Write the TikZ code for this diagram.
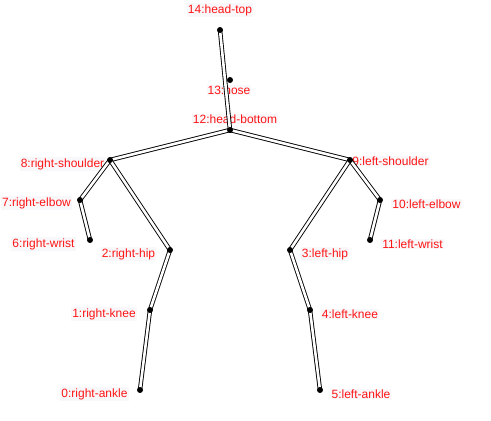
\documentclass[tikz,border=0pt]{standalone}
\usepackage{fontspec}
\setmainfont{Liberation Sans}
\definecolor{lblbg}{RGB}{248,248,251}
\definecolor{lblred}{RGB}{255,20,20}
\begin{document}
\begin{tikzpicture}[x=1pt,y=-1pt,
  lbl/.style={text=lblred,fill=lblbg,inner sep=1pt,font=\fontsize{12}{14}\selectfont},
  bone/.style={draw=black,line width=0.9pt,double=white,double distance=2.6pt},
  joint/.style={circle,fill=black,inner sep=0pt,minimum size=6pt}]
\useasboundingbox (0,0) rectangle (491,421);
% joint positions
\coordinate (p0) at (140,390);
\coordinate (p1) at (150,310);
\coordinate (p2) at (170,250);
\coordinate (p3) at (290,250);
\coordinate (p4) at (310,310);
\coordinate (p5) at (320,390);
\coordinate (p6) at (90,240);
\coordinate (p7) at (80,200);
\coordinate (p8) at (110,160);
\coordinate (p9) at (350,160);
\coordinate (p10) at (380,200);
\coordinate (p11) at (370,240);
\coordinate (p12) at (230,130);
\coordinate (p13) at (230,80);
\coordinate (p14) at (220,30);
% labels
\node[lbl] (l14) at (220,10) {14:head-top};
\node[lbl] (l13) at (229,90) {13:nose};
\node[lbl] (l12) at (235,119) {12:head-bottom};
\node[lbl] (l8) at (62.5,164) {8:right-shoulder};
\node[lbl] (l7) at (36.5,203) {7:right-elbow};
\node[lbl] (l6) at (43.5,244) {6:right-wrist};
\node[lbl] (l2) at (128.5,254) {2:right-hip};
\node[lbl] (l1) at (104,314) {1:right-knee};
\node[lbl] (l0) at (94.5,394) {0:right-ankle};
\node[lbl] (l9) at (390.5,161) {9:left-shoulder};
\node[lbl] (l10) at (426.5,204) {10:left-elbow};
\node[lbl] (l11) at (412.5,244) {11:left-wrist};
\node[lbl] (l3) at (325,254) {3:left-hip};
\node[lbl] (l4) at (350,314) {4:left-knee};
\node[lbl] (l5) at (361,394) {5:left-ankle};
% bones
\draw[bone] (p14) -- (p12);
\draw[bone] (p12) -- (p8);
\draw[bone] (p12) -- (p9);
\draw[bone] (p8) -- (p7);
\draw[bone] (p7) -- (p6);
\draw[bone] (p8) -- (p2);
\draw[bone] (p2) -- (p1);
\draw[bone] (p1) -- (p0);
\draw[bone] (p9) -- (p10);
\draw[bone] (p10) -- (p11);
\draw[bone] (p9) -- (p3);
\draw[bone] (p3) -- (p4);
\draw[bone] (p4) -- (p5);
% joints
\foreach \i in {0,...,14} {\node[joint] (d\i) at (p\i) {};}
\end{tikzpicture}
\end{document}
